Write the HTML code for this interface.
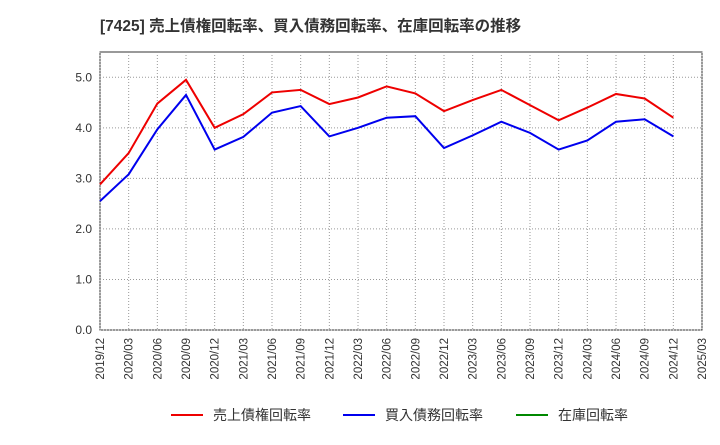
<!DOCTYPE html>
<html><head><meta charset="utf-8"><style>
body{margin:0;background:#fff;font-family:"Liberation Sans","Noto Sans CJK JP",sans-serif;}
</style></head><body>
<svg width="720" height="440" xmlns="http://www.w3.org/2000/svg">
<text x="100" y="31" font-size="15.5" font-weight="bold" fill="#333" font-family="Liberation Sans, Noto Sans CJK JP, sans-serif">[7425]  売上債権回転率、買入債務回転率、在庫回転率の推移</text>
<rect x="100" y="52" width="602" height="278" fill="none" stroke="#333"/>
<g id="grid"></g><g id="axes"></g><g id="series"></g>
<g font-size="14" fill="#333">
<line x1="171" y1="415" x2="203" y2="415" stroke="#e00" stroke-width="2"/><text x="213" y="420">売上債権回転率</text>
<line x1="343" y1="415" x2="375" y2="415" stroke="#00e" stroke-width="2"/><text x="385" y="420">買入債務回転率</text>
<line x1="516" y1="415" x2="548" y2="415" stroke="#080" stroke-width="2"/><text x="558" y="420">在庫回転率</text>
</g>
</svg>
<script>
const categories=["2019/12","2020/03","2020/06","2020/09","2020/12","2021/03","2021/06","2021/09","2021/12","2022/03","2022/06","2022/09","2022/12","2023/03","2023/06","2023/09","2023/12","2024/03","2024/06","2024/09","2024/12","2025/03"];
const receivables=[2.88,3.5,4.48,4.95,4.0,4.27,4.7,4.75,4.47,4.6,4.82,4.68,4.33,4.55,4.75,4.45,4.15,4.4,4.67,4.58,4.2];
const payables=[2.55,3.08,3.97,4.65,3.57,3.82,4.3,4.43,3.83,4.0,4.2,4.23,3.6,3.85,4.12,3.9,3.57,3.75,4.12,4.17,3.83];
const yTicks=[0,1,2,3,4,5];
const ns="http://www.w3.org/2000/svg";
const X=i=>100+i*602/(categories.length-1);
const Y=v=>330-v*278/5.5;
function mk(t,a,p){const e=document.createElementNS(ns,t);for(const k in a)e.setAttribute(k,a[k]);p.appendChild(e);return e;}
const grid=document.getElementById('grid'),axes=document.getElementById('axes'),ser=document.getElementById('series');
categories.forEach((c,i)=>{
 const l=mk('line',{x1:X(i),x2:X(i),y1:52,y2:330,stroke:'#999','stroke-dasharray':'1,2'},grid);
 
 
 const t=mk('text',{x:0,y:0,'font-size':11.5,fill:'#333','text-anchor':'end',transform:`translate(${X(i)+4},338) rotate(-90)`},axes);
 t.textContent=c;
 
 
});
yTicks.forEach(v=>{
 const l=mk('line',{x1:100,x2:702,y1:Y(v),y2:Y(v),stroke:'#999','stroke-dasharray':'1,2'},grid);
 
 
 const t=mk('text',{x:92,y:Y(v)+4,'font-size':12,fill:'#333','text-anchor':'end'},axes);
 t.textContent=v.toFixed(1);
 
 
});
[[receivables,'#e00','receivables-line'],[payables,'#00e','payables-line']].forEach(([d,c,n])=>{
 const p=mk('polyline',{points:d.map((v,i)=>X(i)+','+Y(v)).join(' '),fill:'none',stroke:c,'stroke-width':2},ser);
 
 
});
</script>
</body></html>
